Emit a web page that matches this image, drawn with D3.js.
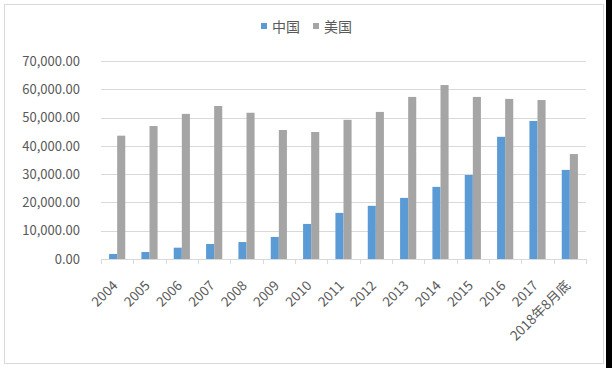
<!DOCTYPE html>
<html><head><meta charset="utf-8">
<script src="https://cdnjs.cloudflare.com/ajax/libs/d3/7.8.5/d3.min.js"></script>
<style>body{margin:0;background:#fff}svg{display:block}</style>
</head><body>
<script>
const categories = ["2004","2005","2006","2007","2008","2009","2010","2011","2012","2013","2014","2015","2016","2017","2018年8月底"];
const china = [1780,2470,4000,5300,6000,7800,12400,16300,18800,21600,25500,29700,43200,48800,31500];
const usa = [43600,47000,51300,54100,51700,45600,44900,49200,52000,57300,61500,57300,56600,56200,37100];
const yTicks = [0,10000,20000,30000,40000,50000,60000,70000];
const seriesNames = ["中国","美国"];
const colors = ["#5B9BD5","#A5A5A5"];

const W=612,H=368;
const svg=d3.select("body").append("svg").attr("width",W).attr("height",H);
svg.append("rect").attr("x",4.5).attr("y",4.5).attr("width",599).attr("height",359).attr("fill","#fff").attr("stroke","#d9d9d9");
svg.append("rect").attr("x",606).attr("y",0).attr("width",6).attr("height",H).attr("fill","#000");

const x0=101,x1=586,yTop=61,yBot=259;
const x=d3.scaleBand().domain(categories).range([x0,x1]).paddingInner(0).paddingOuter(0);
const y=d3.scaleLinear().domain([0,70000]).range([yBot,yTop]);
const font="'Microsoft YaHei','Noto Sans CJK SC','DejaVu Sans',sans-serif";

// gridlines
svg.append("g").selectAll("line").data(yTicks.filter(d=>d>0)).join("line")
 .attr("x1",x0).attr("x2",x1).attr("y1",d=>Math.round(y(d))+0.5).attr("y2",d=>Math.round(y(d))+0.5)
 .attr("stroke","#d9d9d9");

// y axis labels
const yAxis=d3.axisLeft(y).tickValues(yTicks).tickSize(0).tickPadding(0)
 .tickFormat(d=>d3.format(",.2f")(d));
const gy=svg.append("g").attr("transform",`translate(80,0)`).call(yAxis);
gy.select(".domain").remove();
gy.selectAll("text").attr("font-family",font).attr("font-size",13).attr("fill","#595959");

// bars
const bw=x.bandwidth()/4;
const g=svg.append("g");
categories.forEach((c,i)=>{
  [china[i],usa[i]].forEach((v,j)=>{
    g.append("rect").attr("x",x(c)+x.bandwidth()/4+j*bw).attr("width",bw)
     .attr("y",y(v)).attr("height",yBot-y(v)).attr("fill",colors[j]);
  });
});

// x axis
const xAxis=d3.axisBottom(x).tickSize(0).tickPadding(0);
const gx=svg.append("g").attr("transform",`translate(0,${yBot})`).call(xAxis);
gx.select(".domain").attr("stroke","#d9d9d9").attr("d",`M${x0},0.5H${x1}`);
const bounds=categories.map(c=>x(c)).concat([x1]);
gx.selectAll(".bound").data(bounds).join("line").attr("class","bound")
 .attr("x1",d=>Math.round(d)+0.5).attr("x2",d=>Math.round(d)+0.5).attr("y1",0).attr("y2",5).attr("stroke","#d9d9d9");
gx.selectAll(".tick text").attr("font-family",font).attr("font-size",13.5).attr("fill","#595959")
 .attr("text-anchor","end").attr("dy","0.35em")
 .attr("transform","translate(-2,24) rotate(-45)");

// legend
const lg=svg.append("g");
const lx=[261,313];
seriesNames.forEach((n,i)=>{
  lg.append("rect").attr("x",lx[i]).attr("y",23).attr("width",6).attr("height",6).attr("fill",colors[i]);
  lg.append("text").attr("x",lx[i]+11).attr("y",27).attr("dy","0.35em").attr("font-family",font)
   .attr("font-size",14).attr("fill","#595959").text(n);
});
</script>
</body></html>
